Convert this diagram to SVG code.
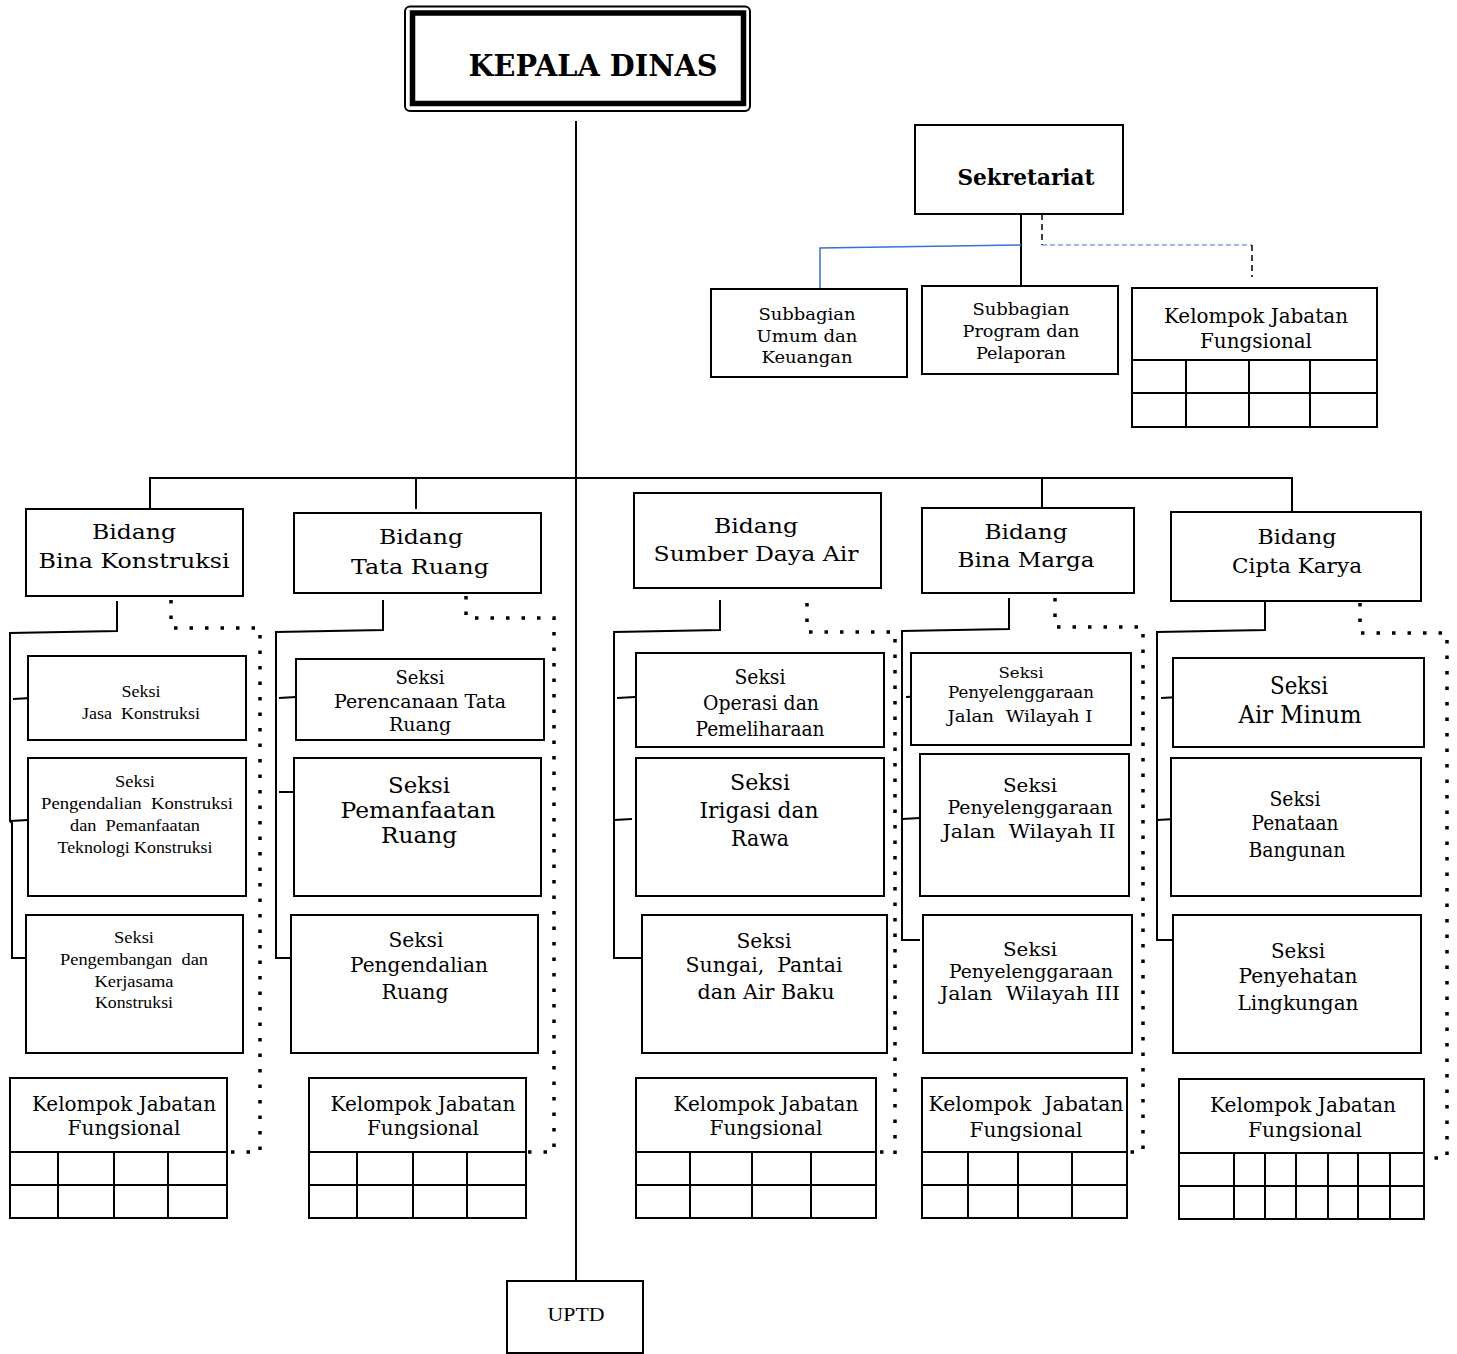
<svg xmlns="http://www.w3.org/2000/svg" width="1457" height="1354" viewBox="0 0 1457 1354">
<style>
text{white-space:pre}
.b{fill:#fff;stroke:#000;stroke-width:2}
.ln{fill:none;stroke:#000;stroke-width:2}
.dot{fill:none;stroke:#000;stroke-width:3.5;stroke-dasharray:3.5 12}
.bk{font-family:"DejaVu Serif","Liberation Serif",serif;fill:#000;text-anchor:middle}
.tm{font-family:"Liberation Serif","DejaVu Serif",serif;fill:#000;text-anchor:middle}
</style>
<rect width="1457" height="1354" fill="#fff"/>

<g id="connectors">
  <path class="ln" d="M576 121V1281"/>
  <path class="ln" d="M150 509V478H1292V511M416 478V509M1042 478V508"/>
  <path class="ln" d="M1021 214V286"/>
  <path fill="none" stroke="#3a6fd8" stroke-width="1.5" d="M1021 245L820 248V289"/>
  <path fill="none" stroke="#000" stroke-width="1.5" stroke-dasharray="6 4" d="M1042 214V245"/>
  <path fill="none" stroke="#3a6fd8" stroke-width="1.2" stroke-dasharray="5 3" d="M1042 245H1252"/>
  <path fill="none" stroke="#000" stroke-width="1.5" stroke-dasharray="6 4" d="M1252 245V277"/>
  <path class="ln" d="M117 601V631L10 633V821L12 823V958H26M13 699L31 698M10 821L28 820"/>
  <path class="dot" d="M171 600V628H260V1152H226"/>
  <path class="ln" d="M383 600V630L276 632V958H291M279 698L296 697M279 792H294"/>
  <path class="dot" d="M466 596V618H554V1152H526"/>
  <path class="ln" d="M720 600V630L614 632V958H642M617 698L635 697M614 820L632 819"/>
  <path class="dot" d="M807 603V632H895V1162"/>
  <path class="dot" d="M880 1152H895"/>
  <path class="ln" d="M1009 598V629L902 631V940H920M906 697L923 696M902 819L920 818"/>
  <path class="dot" d="M1055 598V627H1143V1152H1127"/>
  <path class="ln" d="M1265 601V630L1157 632V940H1172M1161 698L1179 697M1157 820L1175 819"/>
  <path class="dot" d="M1360 603V633H1447V1158H1425"/>
</g>

<g id="kepala-dinas">
  <rect x="405" y="6.5" width="345" height="104.5" rx="5" fill="#fff" stroke="#000" stroke-width="2"/>
  <rect x="412.5" y="13" width="331" height="90.5" fill="none" stroke="#000" stroke-width="5.5"/>
  <text class="bk" x="593" y="76" font-size="29" font-weight="bold" textLength="249" lengthAdjust="spacingAndGlyphs">KEPALA DINAS</text>
</g>

<g id="sekretariat">
  <rect class="b" x="915" y="125" width="208" height="89"/>
  <text class="bk" x="1026" y="185" font-size="23" font-weight="bold" textLength="137" lengthAdjust="spacingAndGlyphs">Sekretariat</text>
</g>

<g id="subbagian-umum">
  <rect class="b" x="711" y="289" width="196" height="88"/>
  <text class="bk" x="807" y="320" font-size="17" textLength="97" lengthAdjust="spacingAndGlyphs">Subbagian</text>
  <text class="bk" x="807" y="342" font-size="17" textLength="101" lengthAdjust="spacingAndGlyphs">Umum dan</text>
  <text class="bk" x="807" y="363" font-size="17" textLength="91" lengthAdjust="spacingAndGlyphs">Keuangan</text>
</g>

<g id="subbagian-program">
  <rect class="b" x="922" y="286" width="196" height="88"/>
  <text class="bk" x="1021" y="315" font-size="17" textLength="97" lengthAdjust="spacingAndGlyphs">Subbagian</text>
  <text class="bk" x="1021" y="337" font-size="17" textLength="117" lengthAdjust="spacingAndGlyphs">Program dan</text>
  <text class="bk" x="1021" y="359" font-size="17" textLength="90" lengthAdjust="spacingAndGlyphs">Pelaporan</text>
</g>

<g id="jf-sekretariat">
  <rect class="b" x="1132" y="288" width="245" height="139"/>
  <path class="ln" d="M1132 360H1377M1132 393H1377M1186 360V427M1249 360V427M1310 360V427"/>
  <text class="bk" x="1256" y="323" font-size="20" textLength="184" lengthAdjust="spacingAndGlyphs">Kelompok Jabatan</text>
  <text class="bk" x="1256" y="348" font-size="20" textLength="112" lengthAdjust="spacingAndGlyphs">Fungsional</text>
</g>

<g id="bidang-bina-konstruksi">
  <rect class="b" x="26" y="509" width="217" height="87"/>
  <text class="bk" x="134" y="539" font-size="21" textLength="84" lengthAdjust="spacingAndGlyphs">Bidang</text>
  <text class="bk" x="134" y="568" font-size="21" textLength="191" lengthAdjust="spacingAndGlyphs">Bina Konstruksi</text>
</g>
<g id="bidang-tata-ruang">
  <rect class="b" x="294" y="513" width="247" height="80"/>
  <text class="bk" x="421" y="544" font-size="21" textLength="84" lengthAdjust="spacingAndGlyphs">Bidang</text>
  <text class="bk" x="420" y="574" font-size="21" textLength="138" lengthAdjust="spacingAndGlyphs">Tata Ruang</text>
</g>
<g id="bidang-sda">
  <rect class="b" x="634" y="493" width="247" height="95"/>
  <text class="bk" x="756" y="533" font-size="21" textLength="84" lengthAdjust="spacingAndGlyphs">Bidang</text>
  <text class="bk" x="756" y="561" font-size="21" textLength="205" lengthAdjust="spacingAndGlyphs">Sumber Daya Air</text>
</g>
<g id="bidang-bina-marga">
  <rect class="b" x="922" y="508" width="212" height="85"/>
  <text class="bk" x="1026" y="539" font-size="21" textLength="83" lengthAdjust="spacingAndGlyphs">Bidang</text>
  <text class="bk" x="1026" y="567" font-size="21" textLength="137" lengthAdjust="spacingAndGlyphs">Bina Marga</text>
</g>
<g id="bidang-cipta-karya">
  <rect class="b" x="1171" y="512" width="250" height="89"/>
  <text class="bk" x="1297" y="544" font-size="21" textLength="79" lengthAdjust="spacingAndGlyphs">Bidang</text>
  <text class="bk" x="1297" y="573" font-size="21" textLength="130" lengthAdjust="spacingAndGlyphs">Cipta Karya</text>
</g>

<g id="seksi-jasa-konstruksi">
  <rect class="b" x="28" y="656" width="218" height="84"/>
  <text class="tm" x="141" y="697" font-size="16" textLength="39" lengthAdjust="spacingAndGlyphs">Seksi</text>
  <text class="tm" x="141" y="719" font-size="16" textLength="118" lengthAdjust="spacingAndGlyphs">Jasa  Konstruksi</text>
</g>
<g id="seksi-pengendalian-konstruksi">
  <rect class="b" x="28" y="758" width="218" height="138"/>
  <text class="tm" x="135" y="787" font-size="16" textLength="40" lengthAdjust="spacingAndGlyphs">Seksi</text>
  <text class="tm" x="137" y="809" font-size="16" textLength="192" lengthAdjust="spacingAndGlyphs">Pengendalian  Konstruksi</text>
  <text class="tm" x="135" y="831" font-size="16" textLength="130" lengthAdjust="spacingAndGlyphs">dan  Pemanfaatan</text>
  <text class="tm" x="135" y="853" font-size="16" textLength="155" lengthAdjust="spacingAndGlyphs">Teknologi Konstruksi</text>
</g>
<g id="seksi-pengembangan">
  <rect class="b" x="26" y="915" width="217" height="138"/>
  <text class="tm" x="134" y="943" font-size="16" textLength="40" lengthAdjust="spacingAndGlyphs">Seksi</text>
  <text class="tm" x="134" y="965" font-size="16" textLength="148" lengthAdjust="spacingAndGlyphs">Pengembangan  dan</text>
  <text class="tm" x="134" y="987" font-size="16" textLength="79" lengthAdjust="spacingAndGlyphs">Kerjasama</text>
  <text class="tm" x="134" y="1008" font-size="16" textLength="78" lengthAdjust="spacingAndGlyphs">Konstruksi</text>
</g>
<g id="jf-bina-konstruksi">
  <rect class="b" x="10" y="1078" width="217" height="140"/>
  <path class="ln" d="M10 1152H227M10 1185H227M58 1152V1218M114 1152V1218M168 1152V1218"/>
  <text class="bk" x="124" y="1111" font-size="20" textLength="184" lengthAdjust="spacingAndGlyphs">Kelompok Jabatan</text>
  <text class="bk" x="124" y="1135" font-size="20" textLength="113" lengthAdjust="spacingAndGlyphs">Fungsional</text>
</g>

<g id="seksi-perencanaan-tata-ruang">
  <rect class="b" x="296" y="659" width="248" height="81"/>
  <text class="bk" x="420" y="684" font-size="19" textLength="49" lengthAdjust="spacingAndGlyphs">Seksi</text>
  <text class="bk" x="420" y="708" font-size="19" textLength="172" lengthAdjust="spacingAndGlyphs">Perencanaan Tata</text>
  <text class="bk" x="420" y="731" font-size="19" textLength="62" lengthAdjust="spacingAndGlyphs">Ruang</text>
</g>
<g id="seksi-pemanfaatan-ruang">
  <rect class="b" x="294" y="758" width="247" height="138"/>
  <text class="bk" x="419" y="793" font-size="23" textLength="62" lengthAdjust="spacingAndGlyphs">Seksi</text>
  <text class="bk" x="418" y="818" font-size="23" textLength="155" lengthAdjust="spacingAndGlyphs">Pemanfaatan</text>
  <text class="bk" x="419" y="843" font-size="23" textLength="76" lengthAdjust="spacingAndGlyphs">Ruang</text>
</g>
<g id="seksi-pengendalian-ruang">
  <rect class="b" x="291" y="915" width="247" height="138"/>
  <text class="bk" x="416" y="947" font-size="21" textLength="55" lengthAdjust="spacingAndGlyphs">Seksi</text>
  <text class="bk" x="419" y="972" font-size="21" textLength="138" lengthAdjust="spacingAndGlyphs">Pengendalian</text>
  <text class="bk" x="415" y="999" font-size="21" textLength="67" lengthAdjust="spacingAndGlyphs">Ruang</text>
</g>
<g id="jf-tata-ruang">
  <rect class="b" x="309" y="1078" width="217" height="140"/>
  <path class="ln" d="M309 1152H526M309 1185H526M357 1152V1218M413 1152V1218M467 1152V1218"/>
  <text class="bk" x="423" y="1111" font-size="20" textLength="185" lengthAdjust="spacingAndGlyphs">Kelompok Jabatan</text>
  <text class="bk" x="423" y="1135" font-size="20" textLength="112" lengthAdjust="spacingAndGlyphs">Fungsional</text>
</g>

<g id="seksi-operasi">
  <rect class="b" x="636" y="653" width="248" height="94"/>
  <text class="bk" x="760" y="684" font-size="20" textLength="51" lengthAdjust="spacingAndGlyphs">Seksi</text>
  <text class="bk" x="761" y="710" font-size="20" textLength="116" lengthAdjust="spacingAndGlyphs">Operasi dan</text>
  <text class="bk" x="760" y="736" font-size="20" textLength="129" lengthAdjust="spacingAndGlyphs">Pemeliharaan</text>
</g>
<g id="seksi-irigasi">
  <rect class="b" x="636" y="758" width="248" height="138"/>
  <text class="bk" x="760" y="790" font-size="23" textLength="60" lengthAdjust="spacingAndGlyphs">Seksi</text>
  <text class="bk" x="759" y="818" font-size="23" textLength="119" lengthAdjust="spacingAndGlyphs">Irigasi dan</text>
  <text class="bk" x="760" y="846" font-size="23" textLength="58" lengthAdjust="spacingAndGlyphs">Rawa</text>
</g>
<g id="seksi-sungai">
  <rect class="b" x="642" y="915" width="245" height="138"/>
  <text class="bk" x="764" y="948" font-size="21" textLength="55" lengthAdjust="spacingAndGlyphs">Seksi</text>
  <text class="bk" x="764" y="972" font-size="21" textLength="157" lengthAdjust="spacingAndGlyphs">Sungai,  Pantai</text>
  <text class="bk" x="766" y="999" font-size="21" textLength="137" lengthAdjust="spacingAndGlyphs">dan Air Baku</text>
</g>
<g id="jf-sda">
  <rect class="b" x="636" y="1078" width="240" height="140"/>
  <path class="ln" d="M636 1152H876M636 1185H876M690 1152V1218M752 1152V1218M811 1152V1218"/>
  <text class="bk" x="766" y="1111" font-size="20" textLength="185" lengthAdjust="spacingAndGlyphs">Kelompok Jabatan</text>
  <text class="bk" x="766" y="1135" font-size="20" textLength="113" lengthAdjust="spacingAndGlyphs">Fungsional</text>
</g>

<g id="seksi-jalan-1">
  <rect class="b" x="911" y="653" width="220" height="92"/>
  <text class="bk" x="1021" y="678" font-size="15" textLength="45" lengthAdjust="spacingAndGlyphs">Seksi</text>
  <text class="bk" x="1021" y="698" font-size="16" textLength="146" lengthAdjust="spacingAndGlyphs">Penyelenggaraan</text>
  <text class="bk" x="1020" y="722" font-size="17" textLength="145" lengthAdjust="spacingAndGlyphs">Jalan  Wilayah I</text>
</g>
<g id="seksi-jalan-2">
  <rect class="b" x="920" y="754" width="209" height="142"/>
  <text class="bk" x="1030" y="792" font-size="19" textLength="54" lengthAdjust="spacingAndGlyphs">Seksi</text>
  <text class="bk" x="1030" y="814" font-size="19" textLength="165" lengthAdjust="spacingAndGlyphs">Penyelenggaraan</text>
  <text class="bk" x="1029" y="838" font-size="19" textLength="173" lengthAdjust="spacingAndGlyphs">Jalan  Wilayah II</text>
</g>
<g id="seksi-jalan-3">
  <rect class="b" x="923" y="915" width="209" height="138"/>
  <text class="bk" x="1030" y="956" font-size="19" textLength="54" lengthAdjust="spacingAndGlyphs">Seksi</text>
  <text class="bk" x="1031" y="978" font-size="19" textLength="164" lengthAdjust="spacingAndGlyphs">Penyelenggaraan</text>
  <text class="bk" x="1030" y="1000" font-size="19" textLength="180" lengthAdjust="spacingAndGlyphs">Jalan  Wilayah III</text>
</g>
<g id="jf-bina-marga">
  <rect class="b" x="922" y="1078" width="205" height="140"/>
  <path class="ln" d="M922 1152H1127M922 1185H1127M968 1152V1218M1018 1152V1218M1072 1152V1218"/>
  <text class="bk" x="1026" y="1111" font-size="20" textLength="195" lengthAdjust="spacingAndGlyphs">Kelompok  Jabatan</text>
  <text class="bk" x="1026" y="1137" font-size="20" textLength="113" lengthAdjust="spacingAndGlyphs">Fungsional</text>
</g>

<g id="seksi-air-minum">
  <rect class="b" x="1173" y="658" width="251" height="89"/>
  <text class="bk" x="1299" y="694" font-size="24" textLength="58" lengthAdjust="spacingAndGlyphs">Seksi</text>
  <text class="bk" x="1300" y="723" font-size="24" textLength="123" lengthAdjust="spacingAndGlyphs">Air Minum</text>
</g>
<g id="seksi-penataan-bangunan">
  <rect class="b" x="1171" y="758" width="250" height="138"/>
  <text class="bk" x="1295" y="806" font-size="20" textLength="51" lengthAdjust="spacingAndGlyphs">Seksi</text>
  <text class="bk" x="1295" y="830" font-size="20" textLength="87" lengthAdjust="spacingAndGlyphs">Penataan</text>
  <text class="bk" x="1297" y="857" font-size="20" textLength="97" lengthAdjust="spacingAndGlyphs">Bangunan</text>
</g>
<g id="seksi-penyehatan-lingkungan">
  <rect class="b" x="1173" y="915" width="248" height="138"/>
  <text class="bk" x="1298" y="958" font-size="21" textLength="54" lengthAdjust="spacingAndGlyphs">Seksi</text>
  <text class="bk" x="1298" y="983" font-size="21" textLength="119" lengthAdjust="spacingAndGlyphs">Penyehatan</text>
  <text class="bk" x="1298" y="1010" font-size="21" textLength="121" lengthAdjust="spacingAndGlyphs">Lingkungan</text>
</g>
<g id="jf-cipta-karya">
  <rect class="b" x="1179" y="1079" width="245" height="140"/>
  <path class="ln" d="M1179 1153H1424M1179 1186H1424M1234 1153V1219M1265 1153V1219M1296 1153V1219M1328 1153V1219M1358 1153V1219M1390 1153V1219"/>
  <text class="bk" x="1303" y="1112" font-size="20" textLength="186" lengthAdjust="spacingAndGlyphs">Kelompok Jabatan</text>
  <text class="bk" x="1305" y="1137" font-size="20" textLength="114" lengthAdjust="spacingAndGlyphs">Fungsional</text>
</g>

<g id="uptd">
  <rect class="b" x="507" y="1281" width="136" height="72"/>
  <text class="tm" x="576" y="1321" font-size="19" textLength="57" lengthAdjust="spacingAndGlyphs">UPTD</text>
</g>
</svg>
